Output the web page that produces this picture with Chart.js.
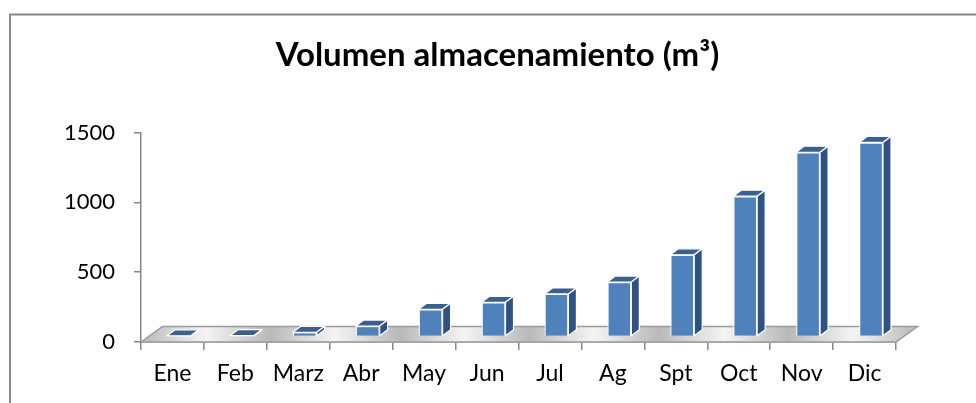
<!DOCTYPE html>
<html>
<head>
<meta charset="utf-8">
<script src="https://cdn.jsdelivr.net/npm/chart.js@4/dist/chart.umd.min.js"></script>
<style>
  html, body { margin: 0; padding: 0; background: #fff; }
  #wrap { width: 976px; height: 403px; }
</style>
</head>
<body>
<div id="wrap"><canvas id="chart" width="976" height="403"></canvas></div>
<script>
var months = ["Ene", "Feb", "Marz", "Abr", "May", "Jun", "Jul", "Ag", "Spt", "Oct", "Nov", "Dic"];
var volumen = [5, 6, 30, 75, 195, 245, 305, 390, 585, 1005, 1320, 1390];
var yTicks = [0, 500, 1000, 1500];

var frontColor = "#4F81BD";
var topColor = "#3B5F8E";
var sideColor = "#2F5282";

// fake 3D: bars sit a bit behind the front edge of the floor
var shiftX = 6.5, shiftY = -5.5;
var depthX = 8, depthY = -6;
var floorX = 21.5, floorY = -15.5;

var frame = {
  id: "frame",
  beforeDraw: function (chart) {
    var ctx = chart.ctx;
    ctx.save();
    ctx.fillStyle = "#fff";
    ctx.fillRect(0, 0, chart.width, chart.height);
    ctx.strokeStyle = "#868686";
    ctx.lineWidth = 2;
    ctx.beginPath();
    ctx.moveTo(10, chart.height + 5);
    ctx.lineTo(10, 14.5);
    ctx.lineTo(chart.width + 5, 14.5);
    ctx.stroke();
    ctx.restore();
  }
};

var bars3d = {
  id: "bars3d",
  beforeDatasetsDraw: function (chart) {
    var ctx = chart.ctx;
    var a = chart.chartArea;
    var y0 = chart.scales.y.getPixelForValue(0);
    ctx.save();
    var g = ctx.createLinearGradient(a.left, 0, a.right + floorX, 0);
    for (var i = 0; i <= 12; i++) {
      g.addColorStop(i / 12, i % 2 ? "#f4f4f4" : "#b9b9b9");
    }
    ctx.fillStyle = g;
    ctx.strokeStyle = "#9a9a9a";
    ctx.lineWidth = 1.5;
    ctx.beginPath();
    ctx.moveTo(a.left, y0);
    ctx.lineTo(a.left + floorX, y0 + floorY);
    ctx.lineTo(a.right + floorX, y0 + floorY);
    ctx.lineTo(a.right, y0);
    ctx.closePath();
    ctx.fill();
    ctx.stroke();
    ctx.restore();

    ctx.save();
    ctx.translate(shiftX, shiftY);
  },
  afterDatasetsDraw: function (chart) {
    var ctx = chart.ctx;
    ctx.restore();
    var meta = chart.getDatasetMeta(0);
    ctx.save();
    ctx.strokeStyle = "#fff";
    ctx.lineWidth = 1.2;
    ctx.lineJoin = "round";
    meta.data.forEach(function (bar) {
      var p = bar.getProps(["x", "y", "base", "width"], true);
      var l = p.x - p.width / 2 + shiftX;
      var r = p.x + p.width / 2 + shiftX;
      var t = p.y + shiftY;
      var b = p.base + shiftY;
      // top face
      ctx.fillStyle = topColor;
      ctx.beginPath();
      ctx.moveTo(l, t);
      ctx.lineTo(l + depthX, t + depthY);
      ctx.lineTo(r + depthX, t + depthY);
      ctx.lineTo(r, t);
      ctx.closePath();
      ctx.fill();
      ctx.stroke();
      // right side
      ctx.fillStyle = sideColor;
      ctx.beginPath();
      ctx.moveTo(r, t);
      ctx.lineTo(r + depthX, t + depthY);
      ctx.lineTo(r + depthX, b + depthY);
      ctx.lineTo(r, b);
      ctx.closePath();
      ctx.fill();
      ctx.stroke();
    });
    ctx.restore();
  }
};

var ctx = document.getElementById("chart").getContext("2d");
var myChart = new Chart(ctx, {
  type: "bar",
  data: {
    labels: months,
    datasets: [
      {
        label: "Volumen",
        data: volumen,
        backgroundColor: frontColor,
        borderColor: "#fff",
        borderWidth: 1.2,
        barPercentage: 0.38,
        categoryPercentage: 1,
        clip: false,
      },
    ],
  },
  options: {
    responsive: false,
    animation: false,
    layout: { padding: { left: 19, right: 0, top: 0, bottom: 0 } },
    scales: {
      x: {
        offset: true,
        grid: { offset: true, drawOnChartArea: false, tickLength: 8, color: "#868686", lineWidth: 1.5 },
        border: { color: "#868686", width: 1.5 },
        ticks: { color: "#000", font: { family: "Lato", size: 23 }, padding: 10, maxRotation: 0 },
        afterFit: function (scale) { scale.height = 61; },
      },
      y: {
        min: 0,
        max: 1500,
        afterBuildTicks: function (scale) {
          scale.ticks = yTicks.map(function (v) { return { value: v }; });
        },
        grid: { drawOnChartArea: false, tickLength: 7, color: "#868686", lineWidth: 1.5 },
        border: { color: "#868686", width: 1.5 },
        ticks: {
          color: "#000",
          font: { family: "Lato", size: 22 },
          padding: 19,
          callback: function (v) { return String(v); },
        },
        afterFit: function (scale) { scale.width = 122; },
      },
      // empty right-hand space so the title centres on the whole frame
      spacer: {
        type: "linear",
        position: "right",
        display: true,
        grid: { display: false },
        border: { display: false },
        ticks: { display: false },
        afterFit: function (scale) { scale.width = 80; },
      },
    },
    plugins: {
      legend: { display: false },
      tooltip: { enabled: false },
      title: {
        display: true,
        text: "Volumen almacenamiento (m³)",
        color: "#000",
        font: { family: "Lato", size: 33, weight: "bold" },
        padding: { top: 36, bottom: 57 },
      },
    },
  },
  plugins: [frame, bars3d],
});
</script>
</body>
</html>
